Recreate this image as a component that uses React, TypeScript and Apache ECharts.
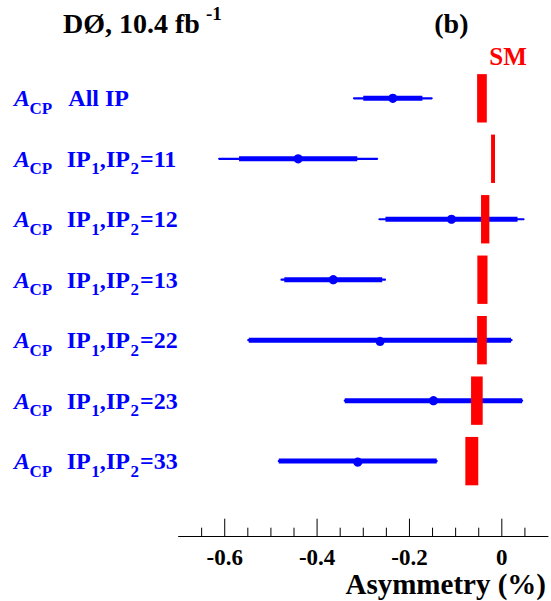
import React, { useEffect, useRef } from "react";
import * as echarts from "echarts";

// ---- data ----
const ipCodes = ["All IP", "11", "12", "13", "22", "23", "33"];
const rowPositions = [1, 2, 3, 4, 5, 6, 7];
const centralValues = [-0.236, -0.441, -0.109, -0.365, -0.264, -0.148, -0.312];
const statErrors = [0.064, 0.128, 0.143, 0.106, 0.284, 0.192, 0.171];
const totalErrors = [0.084, 0.171, 0.156, 0.112, 0.285, 0.192, 0.171];
const smValues = [-0.043, -0.019, -0.036, -0.042, -0.043, -0.054, -0.065];
const smHalfWidths = [0.0105, 0.0043, 0.009, 0.011, 0.0105, 0.0126, 0.014];

const majorTicks = [-0.6, -0.4, -0.2, 0];
const tickLabels = ["-0.6", "-0.4", "-0.2", "0"];
const minorTicks = [-0.65, -0.55, -0.5, -0.45, -0.35, -0.3, -0.25, -0.15, -0.1, -0.05, 0.05];

const X_MIN = -0.7;
const X_MAX = 0.1;
const Y_MIN = 0;
const Y_MAX = 8.25;

const SERIF = "Liberation Serif, Times New Roman, Times, serif";
const BLUE = "#0000ff";
const RED = "#ff0000";

export default function App() {
  const ref = useRef<HTMLDivElement>(null);

  useEffect(() => {
    if (!ref.current) return;
    const chart = echarts.init(ref.current, null, { renderer: "svg" });

    const measData = rowPositions.map((r, i) => [
      r,
      centralValues[i],
      statErrors[i],
      totalErrors[i],
      smValues[i],
      smHalfWidths[i],
    ]);

    const tickSeries = (values: number[], len: number, name: string) => ({
      type: "custom",
      name,
      silent: true,
      data: values.map((v) => [v]),
      renderItem: (_p: any, api: any) => {
        const pt = api.coord([api.value(0), Y_MAX]);
        return {
          type: "line",
          shape: { x1: pt[0], y1: pt[1], x2: pt[0], y2: pt[1] - len },
          style: { stroke: "#000", lineWidth: 1 },
        };
      },
    });

    const option: any = {
      animation: false,
      backgroundColor: "#ffffff",
      grid: { left: 178.55, right: 0.8, top: 37.85, bottom: 64.3, containLabel: false },
      xAxis: {
        type: "value",
        position: "bottom",
        min: X_MIN,
        max: X_MAX,
        interval: 0.05,
        axisLine: { show: true, onZero: false, lineStyle: { color: "#000", width: 1 } },
        axisTick: { show: false },
        splitLine: { show: false },
        axisLabel: {
          margin: 9,
          fontSize: 23,
          fontWeight: "bold",
          fontFamily: SERIF,
          color: "#000",
          formatter: (v: number) => {
            const i = majorTicks.findIndex((m) => Math.abs(m - v) < 1e-9);
            return i >= 0 ? tickLabels[i] : "";
          },
        },
      },
      yAxis: {
        type: "value",
        min: Y_MIN,
        max: Y_MAX,
        inverse: true,
        show: false,
      },
      series: [
        {
          type: "custom",
          name: "measurements",
          silent: true,
          data: measData,
          renderItem: (_p: any, api: any) => {
            const row = api.value(0);
            const c = api.value(1);
            const s = api.value(2);
            const t = api.value(3);
            const sm = api.value(4);
            const h = api.value(5);
            const a = api.coord([c - t, row]);
            const b = api.coord([c + t, row]);
            const as = api.coord([c - s, row]);
            const bs = api.coord([c + s, row]);
            const cc = api.coord([c, row]);
            const r0 = api.coord([sm - h, row - 0.4]);
            const r1 = api.coord([sm + h, row + 0.4]);
            return {
              type: "group",
              children: [
                {
                  type: "line",
                  shape: { x1: a[0], y1: a[1], x2: b[0], y2: b[1] },
                  style: { stroke: BLUE, lineWidth: 2.2, lineCap: "round" },
                },
                {
                  type: "line",
                  shape: { x1: as[0], y1: as[1], x2: bs[0], y2: bs[1] },
                  style: { stroke: BLUE, lineWidth: 5, lineCap: "butt" },
                },
                {
                  type: "circle",
                  shape: { cx: cc[0], cy: cc[1], r: 4.6 },
                  style: { fill: BLUE },
                },
                {
                  type: "rect",
                  shape: {
                    x: Math.min(r0[0], r1[0]),
                    y: Math.min(r0[1], r1[1]),
                    width: Math.abs(r1[0] - r0[0]),
                    height: Math.abs(r1[1] - r0[1]),
                  },
                  style: { fill: RED },
                },
              ],
            };
          },
        },
        tickSeries(majorTicks, 18, "majorTicks"),
        tickSeries(minorTicks, 9, "minorTicks"),
      ],
    };

    chart.setOption(option);

    // labels placed with the library's own y scale
    const graphics: any[] = [];
    const txt = (
      text: string,
      x: number,
      y: number,
      size: number,
      color: string,
      extra: any = {}
    ) => ({
      type: "text",
      x,
      y,
      silent: true,
      style: {
        text,
        fill: color,
        fontFamily: SERIF,
        fontSize: size,
        fontWeight: "bold",
        fontStyle: extra.italic ? "italic" : "normal",
        align: extra.align || "left",
        verticalAlign: "middle",
      },
    });

    graphics.push(txt("DØ, 10.4 fb", 63, 23, 28, "#000"));
    graphics.push(txt("-1", 206, 13.5, 19, "#000"));
    graphics.push(txt("(b)", 434.3, 23, 28, "#000"));
    graphics.push(txt("SM", 489.3, 56.7, 25, RED));
    graphics.push(txt("Asymmetry (%)", 546, 584, 29, "#000", { align: "right" }));

    rowPositions.forEach((r, i) => {
      const y = chart.convertToPixel({ gridIndex: 0 }, [0, r])[1];
      graphics.push(txt("A", 14, y, 24, BLUE, { italic: true }));
      graphics.push(txt("CP", 29.5, y + 10, 17, BLUE));
      if (i === 0) {
        graphics.push(txt(ipCodes[i], 68.3, y, 24, BLUE));
      } else {
        graphics.push(txt("IP", 66.7, y, 24, BLUE));
        graphics.push(txt("1", 91.2, y + 10, 17, BLUE));
        graphics.push(txt(",", 99.8, y, 24, BLUE));
        graphics.push(txt("IP", 106, y, 24, BLUE));
        graphics.push(txt("2", 130.6, y + 10, 17, BLUE));
        graphics.push(txt("=" + ipCodes[i], 140, y, 24, BLUE));
      }
    });

    chart.setOption({ graphic: graphics });

    return () => {
      chart.dispose();
    };
  }, []);

  return (
    <div
      ref={ref}
      style={{ position: "absolute", left: 0, top: 0, width: 551, height: 601 }}
    />
  );
}
